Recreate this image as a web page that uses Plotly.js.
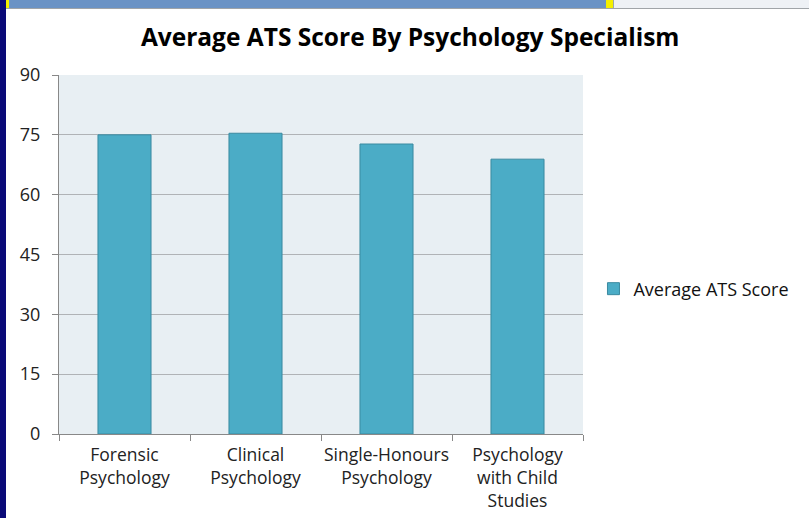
<!DOCTYPE html>
<html>
<head>
<meta charset="utf-8">
<script src="https://cdn.plot.ly/plotly-3.0.1.min.js"></script>
<style>
html,body{margin:0;padding:0;background:#fff;}
#wrap{position:relative;width:809px;height:518px;overflow:hidden;}
#chart{position:absolute;left:0;top:0;width:809px;height:518px;}
.deco{position:absolute;}
</style>
</head>
<body>
<div id="wrap">
<div id="chart"></div>
<div class="deco" style="left:0;top:0;width:6px;height:518px;background:#0a0a78;"></div>
<div class="deco" style="left:6px;top:0;width:600px;height:8px;background:#6b93c5;"></div>
<div class="deco" style="left:6px;top:0;width:3px;height:8px;background:#f5f000;"></div>
<div class="deco" style="left:606px;top:0;width:7px;height:8px;background:#f5f000;"></div>
<div class="deco" style="left:613px;top:0;width:196px;height:8px;background:#eef1f5;border-left:1px solid #9aa;"></div>
<div class="deco" style="left:6px;top:8px;width:803px;height:1px;background:#a0a4a8;"></div>
</div>
<script>
const categories = ["Forensic<br>Psychology", "Clinical<br>Psychology", "Single-Honours<br>Psychology", "Psychology<br>with Child<br>Studies"];
const seriesName = "Average ATS Score";
const values = [75.0, 75.4, 72.7, 68.9];
const yTicks = [0, 15, 30, 45, 60, 75, 90];

const font = "'Open Sans', Lato, 'Liberation Sans', sans-serif";

Plotly.newPlot('chart', [{
  type: 'bar',
  x: categories,
  y: values,
  name: seriesName,
  marker: {color: '#4bacc6', line: {color: '#3b8aa0', width: 1}},
  showlegend: true,
  hoverinfo: 'none'
}], {
  width: 809, height: 518,
  margin: {l: 59, r: 226, t: 75, b: 84},
  paper_bgcolor: '#ffffff',
  plot_bgcolor: '#e8eff3',
  title: {text: '<b>Average ATS Score By Psychology Specialism</b>', x: 0.507, xanchor: 'center', y: 0.927, yanchor: 'middle',
          font: {family: font, size: 24.5, color: '#000'}},
  bargap: 0.595,
  xaxis: {
    type: 'category',
    tickson: 'boundaries',
    tickangle: 0,
    ticks: 'outside', ticklen: 6, tickcolor: '#888',
    showline: true, linecolor: '#888', linewidth: 1,
    tickfont: {family: font, size: 17.5, color: '#222'},
    ticklabelstandoff: 5,
    showgrid: false,
    automargin: false
  },
  yaxis: {
    range: [0, 90],
    tickvals: yTicks,
    ticks: 'outside', ticklen: 6, tickcolor: '#888',
    showline: true, linecolor: '#888', linewidth: 1,
    gridcolor: '#b0b3b6', gridwidth: 1,
    zeroline: false,
    tickfont: {family: font, size: 18, color: '#222'},
    ticklabelstandoff: 8,
    automargin: false
  },
  legend: {x: 1.02, xanchor: 'left', y: 0.404, yanchor: 'middle',
           font: {family: font, size: 18, color: '#111'}, bgcolor: 'rgba(0,0,0,0)',
           itemwidth: 30},
  showlegend: true
}, {displayModeBar: false, staticPlot: true});
</script>
</body>
</html>
